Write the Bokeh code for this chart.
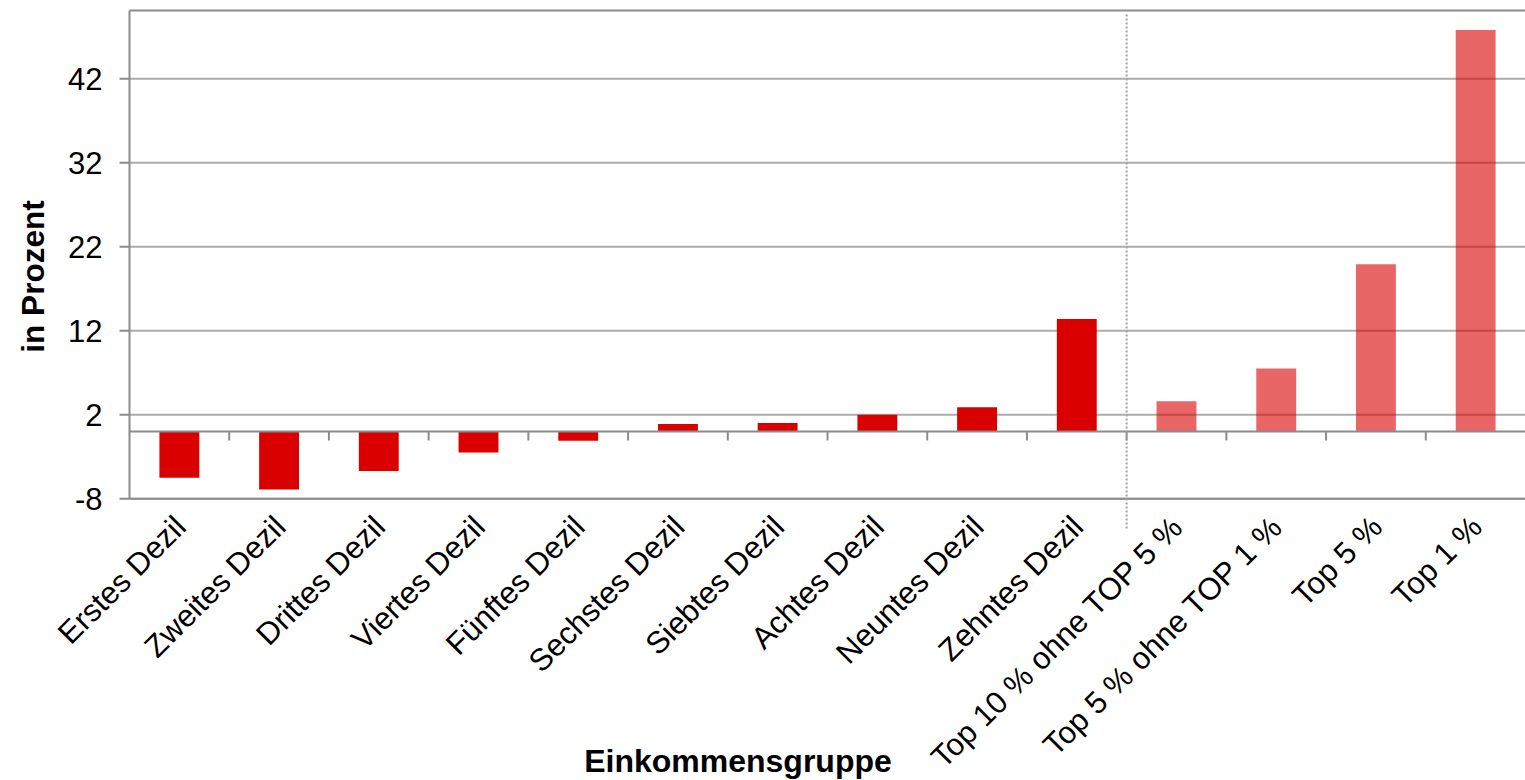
import math
from bokeh.plotting import figure
from bokeh.models import ColumnDataSource, Range1d
from bokeh.core.properties import value
from bokeh.embed import file_html
from bokeh.resources import INLINE

# Einkommensgruppen und Veränderung in Prozent
groups = [
    "Erstes Dezil", "Zweites Dezil", "Drittes Dezil", "Viertes Dezil",
    "Fünftes Dezil", "Sechstes Dezil", "Siebtes Dezil", "Achtes Dezil",
    "Neuntes Dezil", "Zehntes Dezil",
    "Top 10 % ohne TOP 5 %", "Top 5 % ohne TOP 1 %", "Top 5 %", "Top 1 %",
]
values = [-5.5, -6.9, -4.7, -2.5, -1.1, 0.9, 1.0, 2.0, 2.9, 13.4,
          3.6, 7.5, 19.9, 47.8]
# Dezile kräftig, Spitzengruppen aufgehellt
is_top_group = [False] * 10 + [True] * 4
y_ticks = [-8, 2, 12, 22, 32, 42]
x_title = "Einkommensgruppe"
y_title = "in Prozent"

FONT = value("Liberation Sans")
RED = "#DA0000"
GRID = "#ADADAD"
AXIS = "#8C8C8C"

W, H = 1525, 780
LEFT, TOP = 129, 10          # plot box origin in pixels
PX_X = (W - LEFT) / 14       # pixels per category
PX_Y = 8.4                   # pixels per percentage point
ZERO = 431                   # pixel row of the zero line
Y_TOP = (ZERO - TOP) / PX_Y  # value at the top border


def px_x(px):
    return (px - LEFT) / PX_X


def px_y(px):
    return (ZERO - px) / PX_Y


n = len(groups)
centers = [i + 0.5 for i in range(n)]

p = figure(
    width=W, height=H,
    x_range=Range1d(px_x(0), px_x(W)), y_range=Range1d(px_y(H), px_y(0)),
    output_backend="svg", toolbar_location=None,
    x_axis_type=None, y_axis_type=None,
    min_border=0, min_border_left=0, min_border_right=0,
    min_border_top=0, min_border_bottom=0,
)
p.outline_line_color = None
p.xgrid.visible = False
p.ygrid.visible = False
p.background_fill_color = "white"
p.border_fill_color = "white"

# horizontal gridlines
p.segment(x0=[0] * len(y_ticks), y0=y_ticks, x1=[n] * len(y_ticks), y1=y_ticks,
          line_color=GRID, line_width=2)

# bars
source = ColumnDataSource(dict(
    x=centers,
    top=values,
    alpha=[0.6 if t else 1.0 for t in is_top_group],
))
p.vbar(x="x", top="top", bottom=0, width=0.4, source=source,
       fill_color=RED, fill_alpha="alpha", line_color=None)

# box: left, top and bottom border
y_bottom = y_ticks[0]
p.segment(x0=[0, 0, 0], y0=[y_bottom, Y_TOP, y_bottom],
          x1=[0, n, n], y1=[Y_TOP, Y_TOP, y_bottom],
          line_color=AXIS, line_width=2)

# value axis: ticks and labels
tick_len = 10 / PX_X
p.segment(x0=[-tick_len] * len(y_ticks), y0=y_ticks,
          x1=[0] * len(y_ticks), y1=y_ticks,
          line_color=AXIS, line_width=2)
p.text(x=[px_x(102)] * len(y_ticks), y=y_ticks, text=[str(t) for t in y_ticks],
       text_font=FONT, text_font_size="31px", text_color="black",
       text_align="right", text_baseline="middle")
p.text(x=[px_x(32)], y=[px_y(276)], text=[y_title], angle=math.pi / 2,
       text_font=FONT, text_font_size="31.5px", text_font_style="bold",
       text_color="black", text_align="center", text_baseline="middle")

# zero line with category tick marks
p.segment(x0=[0], y0=[0], x1=[n], y1=[0], line_color=AXIS, line_width=2)
bounds = list(range(1, n))
p.segment(x0=bounds, y0=[0] * len(bounds), x1=bounds,
          y1=[-9 / PX_Y] * len(bounds), line_color=AXIS, line_width=2)

# dotted separator between deciles and top groups
p.segment(x0=[10], y0=[px_y(14)], x1=[10], y1=[px_y(528)],
          line_color="#A0A0A0", line_width=2, line_dash="2 2")

# category labels, rotated
p.text(x=[c + 1 / PX_X for c in centers], y=[px_y(521)] * n, text=groups,
       angle=math.pi / 4, text_font=FONT, text_font_size="31px",
       text_color="black", text_align="right", text_baseline="middle")

# category axis title
p.text(x=[px_x(737.5)], y=[px_y(760.5)], text=[x_title],
       text_font=FONT, text_font_size="32px", text_font_style="bold",
       text_color="black", text_align="center", text_baseline="alphabetic")

open("out.html", "w").write(file_html(p, INLINE))
